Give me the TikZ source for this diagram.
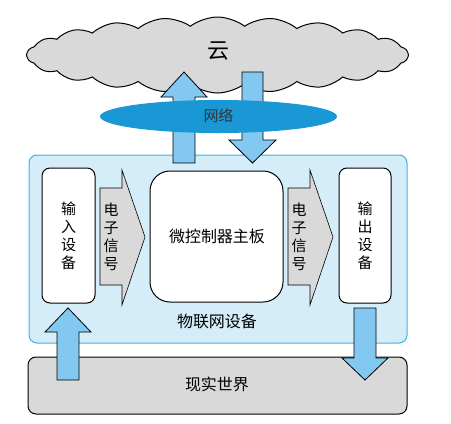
\documentclass[tikz,border=0pt]{standalone}
\usepackage{fontspec}
\setmainfont{Noto Sans CJK SC}
\usetikzlibrary{shapes.symbols,shapes.geometric}
\definecolor{cloudgray}{HTML}{D9D9D9}
\definecolor{iotfill}{HTML}{D5ECF9}
\definecolor{iotline}{HTML}{3DB2E3}
\definecolor{arrowblue}{HTML}{82C8F0}
\definecolor{netblue}{HTML}{1A98D5}
\begin{document}
\begin{tikzpicture}[x = 1pt, y = -1pt,
  box/.style = {draw, line width = 1pt, rounded corners = 8pt, inner sep = 0pt},
  bigarrow/.style = {draw, line width = 0.8pt, fill = arrowblue, line join = miter},
  sigarrow/.style = {draw, line width = 0.6pt, fill = cloudgray},
  vtext/.style = {align = center, font = \fontsize{15}{18}\selectfont}]
\useasboundingbox (0,0) rectangle (451,424);

% cloud and the two outer boxes
\node[cloud, draw, line width = 1pt, fill = cloudgray, cloud puffs = 22, cloud puff arc = 75,
      aspect = 5, minimum width = 381pt, minimum height = 76pt] (cloud) at (217.5,55) {};
\node[font = \fontsize{22}{22}\selectfont] (cloudtext) at (218,51) {云};
\node[box, draw = iotline, fill = iotfill, minimum width = 378pt, minimum height = 188pt] (iot) at (218,249) {};
\node[box, fill = cloudgray, minimum width = 379pt, minimum height = 57pt] (world) at (217.5,385.5) {};
\node[font = \fontsize{16}{16}\selectfont] (worldtext) at (217,384) {现实世界};

% blue arrows
\draw[bigarrow] (173,163) -- (173,97) -- (161,97) -- (184,72) -- (207,97) -- (195,97) -- (195,163) -- cycle;
\draw[bigarrow] (242,72) -- (242,140) -- (229,140) -- (252.5,163) -- (276,140) -- (263,140) -- (263,72) -- cycle;
\draw[bigarrow] (57,380) -- (57,332) -- (45,332) -- (68,308) -- (91,332) -- (79,332) -- (79,380) -- cycle;
\draw[bigarrow] (354,308) -- (354,358) -- (342,358) -- (365,380) -- (388,358) -- (376,358) -- (376,308) -- cycle;

% network
\node[ellipse, fill = netblue, minimum width = 237pt, minimum height = 33pt] (net) at (218.5,116.5) {};
\node[font = \fontsize{15}{15}\selectfont, text = black!80] (nettext) at (218.5,116) {网络};

% inside the IoT device
\node[box, fill = white, minimum width = 53pt, minimum height = 135pt] (input) at (68.5,235.5) {};
\node[vtext] (inputtext) at (68.5,236) {输\\入\\设\\备};
\node[box, fill = white, minimum width = 52pt, minimum height = 135pt] (output) at (365,235.5) {};
\node[vtext] (outputtext) at (365,236) {输\\出\\设\\备};
\node[box, fill = white, rounded corners = 20pt, minimum width = 133pt, minimum height = 131pt] (mcu) at (216.5,236.5) {};
\node[font = \fontsize{16}{16}\selectfont] (mcutext) at (217,236) {微控制器主板};

\draw[sigarrow] (100,188) -- (122,188) -- (122,170) -- (145,237) -- (122,305) -- (122,285) -- (100,285) -- cycle;
\node[vtext] (insig) at (111,237) {电\\子\\信\\号};
\draw[sigarrow] (288,188) -- (310,188) -- (310,170) -- (333,237) -- (310,305) -- (310,285) -- (288,285) -- cycle;
\node[vtext] (outsig) at (299,237) {电\\子\\信\\号};

\node[font = \fontsize{16}{16}\selectfont] (iottext) at (217,321) {物联网设备};
\end{tikzpicture}
\end{document}
